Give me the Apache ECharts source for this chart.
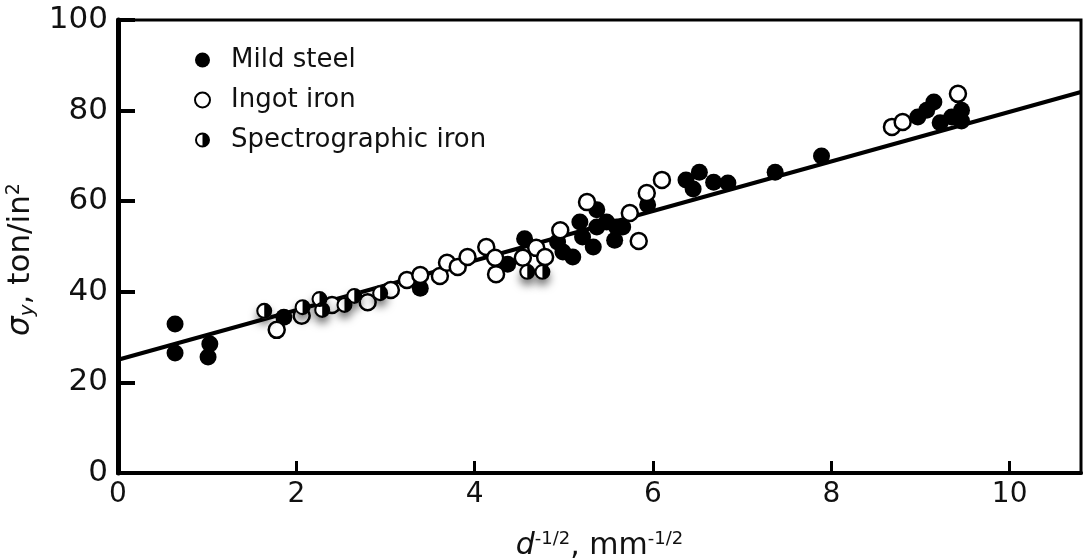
<!DOCTYPE html>
<html>
<head>
<meta charset="utf-8">
<script src="https://cdn.jsdelivr.net/npm/echarts@6/dist/echarts.min.js"></script>
<style>
  html, body { margin: 0; padding: 0; background: #fff; }
  #chart { width: 1085px; height: 560px; }
</style>
</head>
<body>
<div id="chart"></div>
<script>
// Yield stress against reciprocal square root of grain size (Hall–Petch plot)
const seriesNames = ['Mild steel', 'Ingot iron', 'Spectrographic iron'];

// [d^-1/2 (mm^-1/2), sigma_y (ton/in^2)]
const mildSteel = [
  [0.64, 32.9], [0.64, 26.5], [1.03, 28.5], [1.01, 25.6], [1.86, 34.4],
  [3.39, 40.8], [4.37, 46.1], [4.56, 51.7], [4.93, 51.0], [4.99, 48.8],
  [5.10, 47.7], [5.18, 55.4], [5.21, 52.1], [5.33, 49.9], [5.37, 58.1],
  [5.37, 54.3], [5.48, 55.4], [5.59, 54.3], [5.57, 51.4], [5.66, 54.3],
  [5.94, 59.2], [6.37, 64.7], [6.52, 66.4], [6.45, 62.7], [6.68, 64.2],
  [6.84, 64.0], [7.37, 66.4], [7.89, 70.0], [8.97, 78.6], [9.07, 80.1],
  [9.15, 81.9], [9.22, 77.3], [9.35, 78.6], [9.46, 80.1], [9.46, 77.7]
];

const ingotIron = [
  [1.78, 31.6], [2.06, 34.7], [2.40, 37.1], [2.80, 37.7], [3.06, 40.4],
  [3.24, 42.6], [3.39, 43.7], [3.61, 43.5], [3.69, 46.4], [3.81, 45.5],
  [3.92, 47.7], [4.13, 49.9], [4.23, 47.5], [4.24, 43.9], [4.54, 47.5],
  [4.69, 49.7], [4.79, 47.7], [4.96, 53.6], [5.26, 59.8], [5.74, 57.4],
  [5.84, 51.2], [5.93, 61.8], [6.10, 64.7], [8.68, 76.4], [8.80, 77.5],
  [9.42, 83.7]
];

const spectroIron = [
  [1.64, 35.8], [2.07, 36.6], [2.26, 38.4], [2.29, 36.0], [2.54, 37.1],
  [2.65, 39.1], [2.94, 39.7], [4.59, 44.4], [4.76, 44.4]
];

// Fitted Hall–Petch line end points
const fitLine = [[0, 25.0], [10.8, 84.1]];

const xRange = [0, 10.8];
const yRange = [0, 100];
const xStep = 2;
const yStep = 20;

const FONT = 'DejaVu Sans';
const INK = '#111';

// half-filled marker: outer ring plus a filled right half
const halfDisc = 'path://M50 0A50 50 0 1 1 50 100A50 50 0 1 1 50 0Z' +
  'M50 13A37 37 0 1 0 50 87A37 37 0 1 0 50 13Z' +
  'M50 13A37 37 0 0 1 50 87Z';

const chart = echarts.init(document.getElementById('chart'), null, { renderer: 'canvas' });

chart.setOption({
  animation: false,
  backgroundColor: '#fff',
  textStyle: { fontFamily: FONT, color: INK },
  grid: {
    left: 118, right: 4, top: 20, bottom: 87,
    containLabel: false, outerBoundsMode: 'none',
    show: true, borderColor: '#000', borderWidth: 3, backgroundColor: 'transparent'
  },
  legend: {
    data: seriesNames,
    orient: 'vertical',
    left: 189, top: 42,
    itemWidth: 15, itemHeight: 15, itemGap: 14,
    textStyle: { fontFamily: FONT, fontSize: 26, color: INK, padding: [0, 0, 0, 16] },
    selectedMode: false
  },
  xAxis: {
    type: 'value',
    min: xRange[0], max: xRange[1], interval: xStep,
    name: '{i|d}{sup|-1/2}{n|, mm}{sup|-1/2}',
    nameLocation: 'middle', nameGap: 57,
    nameTextStyle: {
      rich: {
        i: { fontFamily: FONT, fontSize: 30, fontStyle: 'italic', color: INK },
        n: { fontFamily: FONT, fontSize: 30, color: INK },
        sup: { fontFamily: FONT, fontSize: 18, color: INK, verticalAlign: 'top', padding: [0, 0, 14, 0] }
      }
    },
    axisLine: { show: true, onZero: false, lineStyle: { color: '#000', width: 4 } },
    axisTick: { show: true, inside: true, length: 12, lineStyle: { color: '#000', width: 3 } },
    axisLabel: {
      fontFamily: FONT, fontSize: 28, color: INK, margin: 8,
      showMaxLabel: false,
      formatter: v => (Math.abs(v % xStep) < 1e-9 ? String(v) : '')
    },
    splitLine: { show: false }
  },
  yAxis: {
    type: 'value',
    min: yRange[0], max: yRange[1], interval: yStep,
    name: '{s|σ}{sub|y}{n|, ton/in}{sup|2}',
    nameLocation: 'middle', nameGap: 67,
    nameTextStyle: {
      padding: [0, 26, 0, 0],
      rich: {
        s: { fontFamily: FONT, fontSize: 31, fontStyle: 'italic', color: INK },
        sub: { fontFamily: FONT, fontSize: 20, fontStyle: 'italic', color: INK, verticalAlign: 'bottom', padding: [10, 0, 0, 0] },
        n: { fontFamily: FONT, fontSize: 31, color: INK },
        sup: { fontFamily: FONT, fontSize: 19, color: INK, verticalAlign: 'top', padding: [0, 0, 14, 0] }
      }
    },
    axisLine: { show: true, onZero: false, lineStyle: { color: '#000', width: 5 } },
    axisTick: { show: true, inside: true, length: 17, lineStyle: { color: '#000', width: 4 } },
    axisLabel: { fontFamily: FONT, fontSize: 31, color: INK, margin: 10, padding: [5, 0, 0, 0] },
    splitLine: { show: false }
  },
  series: [
    {
      name: 'fit',
      type: 'line',
      data: fitLine,
      symbol: 'none',
      silent: true,
      z: 1,
      lineStyle: { color: '#000', width: 4 }
    },
    {
      name: seriesNames[0],
      type: 'scatter',
      data: mildSteel,
      symbol: 'circle',
      symbolSize: 17,
      z: 2,
      itemStyle: { color: '#000', opacity: 1 }
    },
    {
      name: seriesNames[1],
      type: 'scatter',
      data: ingotIron,
      symbol: 'circle',
      symbolSize: 16,
      z: 3,
      itemStyle: { color: '#fff', borderColor: '#000', borderWidth: 2.5, opacity: 1 }
    },
    {
      // white backing with a soft drop shadow under each half-filled marker
      name: 'spectro-backing',
      type: 'scatter',
      data: spectroIron,
      symbol: 'circle',
      symbolSize: 15,
      silent: true,
      z: 4,
      itemStyle: {
        color: '#fff', opacity: 1,
        shadowColor: 'rgba(0,0,0,0.55)', shadowBlur: 8, shadowOffsetY: 6
      }
    },
    {
      name: seriesNames[2],
      type: 'scatter',
      data: spectroIron,
      symbol: halfDisc,
      symbolSize: 16,
      z: 5,
      itemStyle: { color: '#000', opacity: 1 }
    }
  ]
});
</script>
</body>
</html>
